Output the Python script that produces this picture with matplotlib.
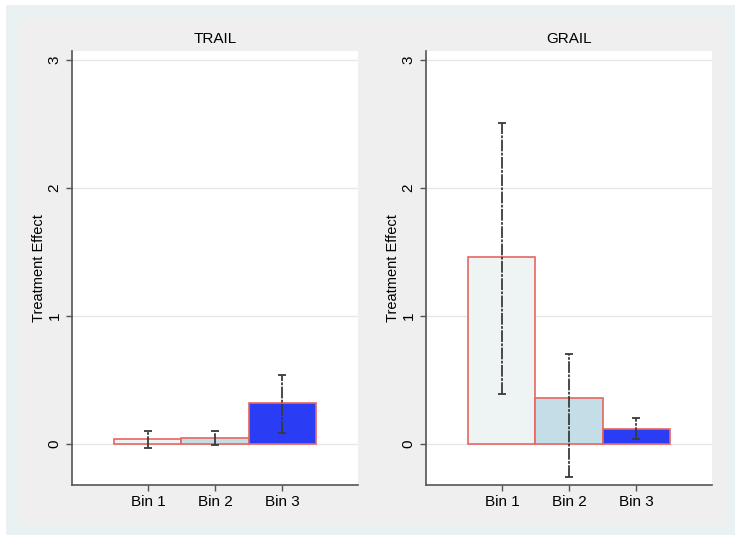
import matplotlib.pyplot as plt
from matplotlib.patches import Rectangle

plt.rcParams['font.family'] = ['Liberation Sans', 'DejaVu Sans']

# Data
bins = ["Bin 1", "Bin 2", "Bin 3"]
panels = ["TRAIL", "GRAIL"]
trail_effect = [0.04, 0.05, 0.32]
trail_low = [-0.03, -0.01, 0.09]
trail_high = [0.10, 0.10, 0.54]
grail_effect = [1.46, 0.36, 0.12]
grail_low = [0.39, -0.26, 0.04]
grail_high = [2.51, 0.70, 0.20]

bar_colors = ["#EEF3F3", "#C3DEE6", "#2B3CF5"]
edge_color = "#E8655F"

W, H = 735, 535
fig = plt.figure(figsize=(W / 100, H / 100), dpi=100, facecolor="white")

# outer frames (Stata graph region look)
fig.patches.append(Rectangle((6 / W, 0), 1 - 6 / W, 1 - 5 / H,
                             transform=fig.transFigure, facecolor="#EAF1F3",
                             edgecolor="none", zorder=-2))
fig.patches.append(Rectangle((17 / W, 1 - 525 / H), (726 - 17) / W, (525 - 17) / H,
                             transform=fig.transFigure, facecolor="#EFEFEF",
                             edgecolor="none", zorder=-1))

ax_w = (358 - 72) / W
ax_h = (485 - 51) / H
ax_b = 1 - 485 / H
lefts = [72 / W, 426 / W]

series = [(trail_effect, trail_low, trail_high),
          (grail_effect, grail_low, grail_high)]

x = [1, 2, 3]
for left, title, (eff, lo, hi) in zip(lefts, panels, series):
    ax = fig.add_axes([left, ax_b, ax_w, ax_h])
    ax.set_facecolor("white")
    for yv in [0, 1, 2, 3]:
        ax.axhline(yv, color="#E6E6E6", lw=1.0, zorder=0)
    ax.bar(x, eff, width=1.0, color=bar_colors, edgecolor=edge_color,
           linewidth=1.2, zorder=2)
    yerr = [[e - l for e, l in zip(eff, lo)], [h - e for e, h in zip(eff, hi)]]
    _, caps, cols = ax.errorbar(x, eff, yerr=yerr, fmt="none", ecolor="#3A3A3A",
                                elinewidth=1.3, capsize=3, capthick=1.3, zorder=3)
    for c in cols:
        c.set_linestyle((0, (6.5, 0.8, 1.5, 0.8)))

    ax.set_xlim(-0.134, 4.134)
    ax.set_ylim(-0.32, 3.07)
    ax.set_xticks(x)
    ax.set_xticklabels(bins, fontsize=11)
    ax.set_yticks([0, 1, 2, 3])
    ax.set_yticklabels(["0", "1", "2", "3"], fontsize=11, rotation=90, va="center")
    ax.set_ylabel("Treatment Effect", fontsize=10.5, labelpad=1)
    ax.set_title(title, fontsize=11, pad=6)
    ax.tick_params(axis="both", length=4.5, width=1, color="#555555", pad=3)
    for s in ["top", "right"]:
        ax.spines[s].set_visible(False)
    for s in ["left", "bottom"]:
        ax.spines[s].set_color("#555555")
        ax.spines[s].set_linewidth(1.2)

fig.savefig("out.png", dpi=100, facecolor=fig.get_facecolor())
